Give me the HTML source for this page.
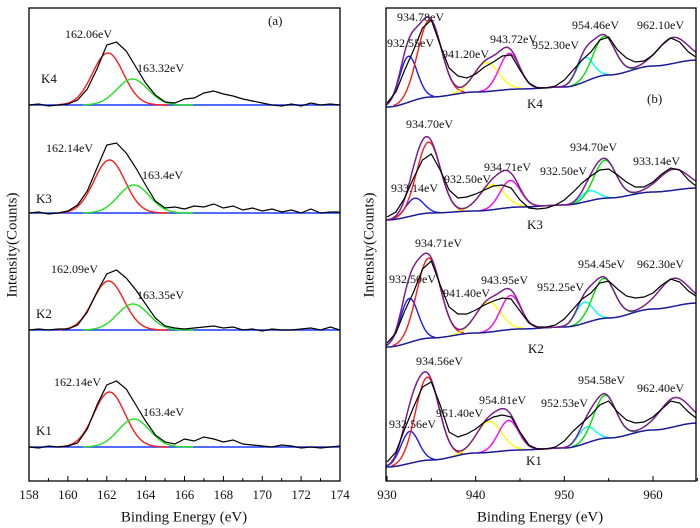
<!DOCTYPE html>
<html><head><meta charset="utf-8"><style>
body{margin:0;background:#fff;}
svg{display:block;}
text{fill:#111;font-family:"Liberation Serif","DejaVu Serif",serif;}
</style></head><body>
<svg id="c" width="700" height="528" viewBox="0 0 700 528" font-family="Liberation Serif, serif"></svg>
<script>
// ---------- Panel (a): S 2p ----------
const aTicks = [158,160,162,164,166,168,170,172,174];
const aSamples = ["K4","K3","K2","K1"];
const aBase = [105,213,330,447];
const aRedCenter = [162.06,162.14,162.09,162.14];
const aRedAmp = [52,53,49,55];
const aGreenCenter = [163.32,163.4,163.35,163.4];
const aGreenAmp = [26,28,26,28];
const aStart = 158, aStep = 0.5;
const aK4 = [0,1,-1,0,1,5,16,36,60,63,54,38,22,10,3,2,6,7,12,14,11,9,6,4,2,0,-1,1,-1,2,0,1,0];
const aK3 = [0,1,-1,0,2,8,22,45,68,70,60,45,28,12,5,6,4,7,6,9,5,7,3,5,2,4,1,3,0,4,0,1,1];
const aK2 = [0,1,0,1,1,5,18,38,56,60,52,40,26,12,4,2,1,2,3,4,2,3,0,1,-1,1,0,0,1,2,0,3,0];
const aK1 = [0,-1,1,0,1,4,18,42,62,66,58,42,26,12,5,3,8,6,10,8,5,7,3,2,1,0,2,1,-1,0,-1,0,1];
const aBlack = [aK4,aK3,aK2,aK1];
const aPeakLabels = [["162.06eV","163.32eV"],["162.14eV","163.4eV"],["162.09eV","163.35eV"],["162.14eV","163.4eV"]];

// ---------- Panel (b): Cu 2p ----------
const bTicks = [930,940,950,960];
const bBase = [107,220,347,467];
const bBgE = [930,935,940,945,950,955,960,965];
const bBgK4 = [0,10,15,18,20,32,41,47];
const bBgK3 = [0,7,9,13,15,22,28,32];
const bBgK2 = [0,9,14,18,20,29,38,44];
const bBgK1 = [0,7,14,17,19,29,37,44];
const bBg = [bBgK4,bBgK3,bBgK2,bBgK1];
const bPeakColors = ["#1a1aff","#ff1a1a","#ffff00","#ff00ff","#00ffff","#00e000","#7a1f8a"];
const bCentersK4 = [932.4,934.8,941.2,943.8,952.3,954.5,962.2];
const bCentersK3 = [933.1,934.7,941.8,943.9,952.8,954.6,962.3];
const bCentersK2 = [932.5,934.71,941.4,943.95,952.25,954.45,962.3];
const bCentersK1 = [932.56,934.56,941.5,943.7,952.5,954.6,962.4];
const bCenters = [bCentersK4,bCentersK3,bCentersK2,bCentersK1];
const bAmpK4 = [46,77,29,36,24,39,26];
const bAmpK3 = [17,71,25,27,10,38,21];
const bAmpK2 = [44,80,30,34,21,40,28];
const bAmpK1 = [32,83,31,30,16,43,29];
const bAmps = [bAmpK4,bAmpK3,bAmpK2,bAmpK1];
const bSigma = [1.0,1.35,1.4,1.15,0.95,1.25,1.7];
const bStart = 930, bStep = 1;
const bK4 = [4,15,37,57,79,87,62,39,31,29,33,40,45,51,52,37,24,19,19,21,27,37,47,55,67,70,57,49,45,46,52,62,69,65,55,49];
const bK3 = [3,8,22,42,60,66,50,30,22,23,26,30,34,35,32,20,12,11,12,15,20,28,37,44,50,51,45,38,33,33,38,46,52,50,40,33];
const bK2 = [4,14,36,55,78,86,62,40,33,33,37,42,46,49,48,36,24,20,20,22,28,38,48,54,64,66,58,51,49,50,54,62,68,65,56,50];
const bK1 = [5,15,38,60,80,85,62,35,30,33,38,45,50,52,50,35,22,18,18,20,26,36,44,52,62,66,55,47,44,45,50,58,66,64,55,48];
const bBlack = [bK4,bK3,bK2,bK1];
const bLabels = [
 [["934.78eV",397,18],["932.55eV",387,44],["941.20eV",442,55],["943.72eV",490,40],["952.30eV",532,46],["954.46eV",572,26],["962.10eV",637,26]],
 [["934.70eV",406,125],["933.14eV",391,189],["932.50eV",444,180],["934.71eV",484,168],["932.50eV",540,172],["934.70eV",570,148],["933.14eV",633,162]],
 [["934.71eV",415,244],["932.50eV",389,280],["941.40eV",443,294],["943.95eV",481,281],["952.25eV",537,288],["954.45eV",578,265],["962.30eV",637,265]],
 [["934.56eV",416,362],["932.56eV",389,425],["951.40eV",436,414],["954.81eV",479,401],["952.53eV",541,404],["954.58eV",578,381],["962.40eV",637,389]]
];
const bSampleLabelPos = [[527,105],[527,226],[528,350],[526,462]];

const NS="http://www.w3.org/2000/svg";
const svg=document.getElementById('c');
function mk(tag,attrs,parent){const e=document.createElementNS(NS,tag);for(const k in attrs)e.setAttribute(k,attrs[k]);(parent||svg).appendChild(e);return e;}
function txt(s,x,y,size,anchor,parent){const t=mk('text',{x:x,y:y,'font-size':size,'font-family':'Liberation Serif, DejaVu Serif, serif','text-anchor':anchor||'start','dominant-baseline':'middle'},parent);t.textContent=s;return t;}
function g(x,c,a,s){const d=(x-c)/s;return a*Math.exp(-0.5*d*d);}
function pathFrom(pts){return pts.map((p,i)=>(i?'L':'M')+p[0].toFixed(1)+','+p[1].toFixed(1)).join('');}

const aL=29,aR=340,aT=8,aB=481;
const ax=e=>aL+(e-158)/(174-158)*(aR-aL);
const bL=386,bR=696,bT=8,bB=481;
const bx=e=>387+(e-930)*(653-387)/30;
function bgVal(arr,e){for(let i=0;i<bBgE.length-1;i++){if(e<=bBgE[i+1]){const t=Math.max(0,(e-bBgE[i])/(bBgE[i+1]-bBgE[i]));const s=t*t*(3-2*t);return arr[i]+(arr[i+1]-arr[i])*s;}}return arr[arr.length-1];}

const ga=mk('g',{});


const clipA=mk('clipPath',{id:'ca'});mk('rect',{x:aL,y:aT,width:aR-aL,height:aB-aT},clipA);
const clipB=mk('clipPath',{id:'cb'});mk('rect',{x:bL,y:bT,width:bR-bL,height:bB-bT},clipB);
aSamples.forEach((s,i)=>{
  const base=aBase[i];
  const grp=mk('g',{'clip-path':'url(#ca)'},ga);
  
  
  const bl=mk('line',{x1:aL,x2:aR,y1:base,y2:base,stroke:'#1a3cff','stroke-width':1.5},grp);
  
  
  const rp=[],gp=[];
  for(let e=159.5;e<=165.2;e+=0.05)rp.push([ax(e),base-g(e,aRedCenter[i],aRedAmp[i],0.8)]);
  for(let e=160.8;e<=166.5;e+=0.05)gp.push([ax(e),base-g(e,aGreenCenter[i],aGreenAmp[i],0.8)]);
  const r=mk('path',{d:pathFrom(rp),fill:'none',stroke:'#ff1a1a','stroke-width':1.4},grp);
  
  
  const gr=mk('path',{d:pathFrom(gp),fill:'none',stroke:'#22e022','stroke-width':1.4},grp);
  
  
  const bp=aBlack[i].map((v,k)=>[ax(aStart+k*aStep),base-v]);
  const b=mk('path',{d:pathFrom(bp),fill:'none',stroke:'#000','stroke-width':1.2},grp);
  
  
});
const aLabelPos=[[[65,35],[137,69],[41,80]],[[46,149],[142,176],[36,200]],[[51,270],[137,296],[36,315]],[[54,383],[143,413],[36,432]]];
aSamples.forEach((s,i)=>{
  const p=aLabelPos[i];
  let t=txt(aPeakLabels[i][0],p[0][0],p[0][1],12,'start',ga);
  
  
  t=txt(aPeakLabels[i][1],p[1][0],p[1][1],12,'start',ga);
  
  
  t=txt(s,p[2][0],p[2][1],13,'start',ga);
  
  
});
let pa=txt('(a)',268,22,13,'start',ga);



const gb=mk('g',{});


aSamples.forEach((s,i)=>{
  const base=bBase[i];
  const grp=mk('g',{'clip-path':'url(#cb)'},gb);
  
  
  const bgPts=[],env=[];
  for(let e=929.5;e<=966;e+=0.1){
    const bg=bgVal(bBg[i],e);bgPts.push([bx(e),base-bg]);
    let sum=bg;bCenters[i].forEach((c,k)=>sum+=g(e,c,bAmps[i][k],bSigma[k]));
    env.push([bx(e),base-sum]);
  }
  for(let k=0;k<6;k++){
    const pts=[];
    const c=bCenters[i][k],sg=bSigma[k];
    for(let e=c-3*sg;e<=c+3*sg;e+=0.1){pts.push([bx(e),base-bgVal(bBg[i],e)-g(e,c,bAmps[i][k],sg)]);}
    const p=mk('path',{d:pathFrom(pts),fill:'none',stroke:bPeakColors[k],'stroke-width':1.4},grp);
    
    
  }
  const bgl=mk('path',{d:pathFrom(bgPts),fill:'none',stroke:'#1a1a9a','stroke-width':1.5},grp);
  
  
  const en=mk('path',{d:pathFrom(env),fill:'none',stroke:'#7a1f8a','stroke-width':1.5},grp);
  
  
  const bp=bBlack[i].map((v,k)=>[bx(bStart+k*bStep),base-v]);
  const b=mk('path',{d:pathFrom(bp),fill:'none',stroke:'#000','stroke-width':1.2},grp);
  
  
  bLabels[i].forEach((L,k)=>{
    const t=txt(L[0],L[1],L[2],12,'start',gb);
    
    
  });
  const sl=txt(s,bSampleLabelPos[i][0],bSampleLabelPos[i][1],13,'start',gb);
  
  
});
let pb=txt('(b)',647,100,13,'start',gb);



const fa=mk('rect',{x:aL,y:aT,width:aR-aL,height:aB-aT,fill:'none',stroke:'#000','stroke-width':1.3});


const fb=mk('rect',{x:bL,y:bT,width:bR-bL,height:bB-bT,fill:'none',stroke:'#000','stroke-width':1.3});


for(let e=158;e<=174;e++){
  const l=mk('line',{x1:ax(e),x2:ax(e),y1:aB,y2:aB-(e%2?3:5),stroke:'#000','stroke-width':1});
  
  
}
aTicks.forEach(v=>{const t=txt(String(v),ax(v),496,13,'middle');
  
  });
for(let e=930;e<=965;e+=5){
  const l=mk('line',{x1:bx(e),x2:bx(e),y1:bB,y2:bB-(e%10?3:5),stroke:'#000','stroke-width':1});
  
  
}
bTicks.forEach(v=>{const t=txt(String(v),bx(v),496,13,'middle');
  
  });
let t1=txt('Binding Energy (eV)',184,518,15,'middle');


let t2=txt('Binding Energy (eV)',540,518,15,'middle');


let y1=txt('Intensity(Counts)',0,0,15,'middle');
y1.setAttribute('transform','translate(13,245) rotate(-90)');


let y2=txt('Intensity(Counts)',0,0,15,'middle');
y2.setAttribute('transform','translate(370,245) rotate(-90)');


</script>
</body></html>
